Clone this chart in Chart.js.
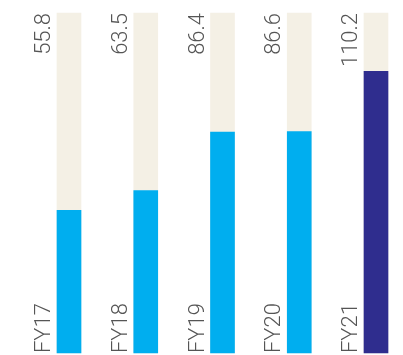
<!DOCTYPE html>
<html>
<head>
<meta charset="utf-8">
<style>
  html, body { margin: 0; padding: 0; background: #ffffff; }
  #wrap { width: 403px; height: 355px; }
</style>
<script src="https://cdn.jsdelivr.net/npm/chart.js@4/dist/chart.umd.min.js"></script>
</head>
<body>
<div id="wrap"><canvas id="chart" width="403" height="355"></canvas></div>
<script>
// Fiscal years and their values
const categories = ['FY17', 'FY18', 'FY19', 'FY20', 'FY21'];
const values = [55.8, 63.5, 86.4, 86.6, 110.2];
// Full height of the background track (top of the value axis)
const trackMax = 133;
const trackValues = categories.map(() => trackMax);

const barColors = ['#00AEEF', '#00AEEF', '#00AEEF', '#00AEEF', '#2F2D8E'];
const trackColor = '#F4F0E5';
const labelColor = '#555555';
const labelFont = '300 22px Roboto, "Liberation Sans", sans-serif';

// Vertical labels: the value reads up to the top of the track,
// the year reads up from the bottom, both just left of each bar.
const sideLabels = {
  id: 'sideLabels',
  afterDatasetsDraw(chart) {
    const ctx = chart.ctx;
    const area = chart.chartArea;
    const meta = chart.getDatasetMeta(0);
    ctx.save();
    ctx.font = labelFont;
    ctx.fillStyle = labelColor;
    ctx.textBaseline = 'alphabetic';
    meta.data.forEach((bar, i) => {
      const left = bar.x - bar.width / 2;
      const x = left - 7;
      // value at the top
      ctx.save();
      ctx.translate(x, area.top);
      ctx.rotate(-Math.PI / 2);
      ctx.textAlign = 'right';
      ctx.fillText(values[i].toFixed(1), 0, 0);
      ctx.restore();
      // year at the bottom
      ctx.save();
      ctx.translate(x, area.bottom);
      ctx.rotate(-Math.PI / 2);
      ctx.textAlign = 'left';
      ctx.fillText(categories[i], 0, 0);
      ctx.restore();
    });
    ctx.restore();
  }
};

new Chart(document.getElementById('chart'), {
  type: 'bar',
  data: {
    labels: categories,
    datasets: [
      {
        label: 'Value',
        data: values,
        backgroundColor: barColors,
        barThickness: 24,
        grouped: false,
        clip: false
      },
      {
        label: 'Track',
        data: trackValues,
        backgroundColor: trackColor,
        barThickness: 24,
        grouped: false,
        clip: false
      }
    ]
  },
  options: {
    responsive: false,
    animation: false,
    layout: { padding: { left: 69, right: 27, top: 13, bottom: 2 } },
    plugins: { legend: { display: false }, tooltip: { enabled: false } },
    scales: {
      x: { display: false, offset: false },
      y: { display: false, min: 0, max: trackMax }
    }
  },
  plugins: [sideLabels]
});
</script>
</body>
</html>
